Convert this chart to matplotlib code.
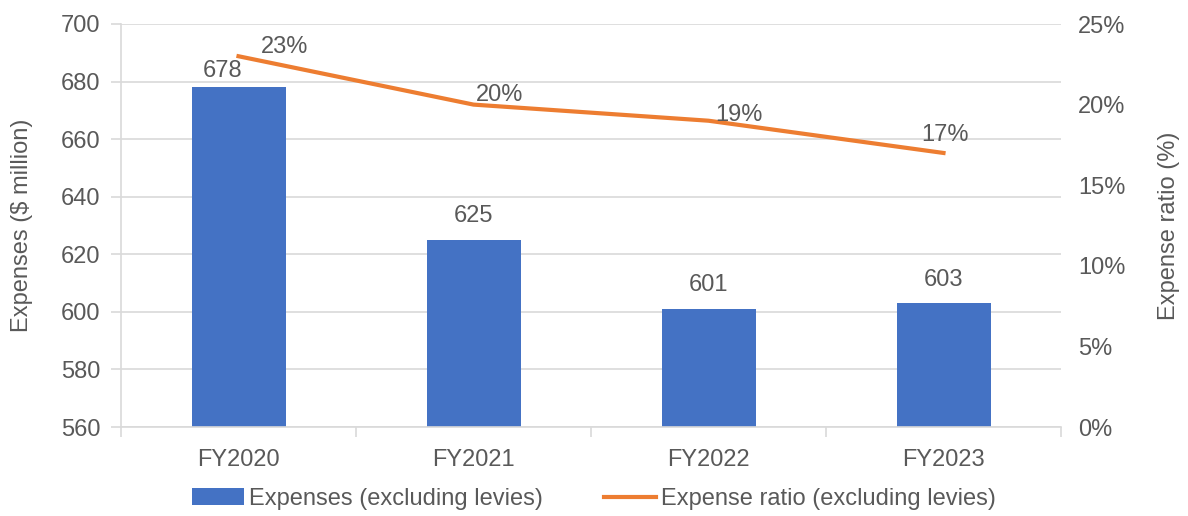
import numpy as np
import matplotlib.pyplot as plt
from matplotlib.ticker import FuncFormatter

plt.rcParams['font.family'] = ['Liberation Sans', 'DejaVu Sans']

years = ['FY2020', 'FY2021', 'FY2022', 'FY2023']
expenses = [678, 625, 601, 603]
ratio = [23, 20, 19, 17]

txt = '#595959'
grid = '#d9d9d9'
blue = '#4472c4'
orange = '#ed7d31'
fs = 17

fig = plt.figure(figsize=(11.88, 5.16), dpi=100)
ax = fig.add_axes([121/1188, 89/516, 940/1188, 403/516])
x = np.arange(len(years))

bars = ax.bar(x, expenses, width=0.40, color=blue, label='Expenses (excluding levies)', zorder=2)
ax.set_ylim(560, 700)
ax.set_xlim(-0.5, len(years) - 0.5)
ax.set_yticks(np.arange(560, 701, 20))
ax.yaxis.grid(True, color=grid, linewidth=1.2, zorder=0)
ax.set_axisbelow(True)
ax.set_xticks(x)
ax.set_xticklabels(years)
ax.set_xticks(np.arange(-0.5, len(years), 1), minor=True)
ax.tick_params(axis='x', which='major', length=0, pad=16, labelsize=fs, labelcolor=txt)
ax.tick_params(axis='x', which='minor', length=7, color=grid, width=1.2)
ax.tick_params(axis='y', length=7, color=grid, width=1.2, labelsize=fs, labelcolor=txt, pad=8)
for s in ['top', 'right']:
    ax.spines[s].set_visible(False)
for s in ['left', 'bottom']:
    ax.spines[s].set_color(grid)
    ax.spines[s].set_linewidth(1.2)
ax.set_ylabel('Expenses ($ million)', fontsize=fs, color=txt)
ax.yaxis.set_label_coords(-0.0936, 0.5)

# first label sits left of the line
bar_off = [(-11.5, 11.5), (0, 17), (0, 17), (0, 17)]
for xi, v, off in zip(x, expenses, bar_off):
    ax.annotate(str(v), (xi, v), xytext=off, textcoords='offset points',
                ha='center', va='center', fontsize=fs, color=txt)

ax2 = ax.twinx()
line, = ax2.plot(x, ratio, color=orange, linewidth=3, label='Expense ratio (excluding levies)', zorder=3)
ax2.set_ylim(0, 25)
ax2.set_yticks(np.arange(0, 26, 5))
ax2.yaxis.set_major_formatter(FuncFormatter(lambda v, p: f'{v:.0f}%'))
ax2.tick_params(axis='y', length=0, labelsize=fs, labelcolor=txt, pad=12.5)
for s in ['top', 'right', 'left', 'bottom']:
    ax2.spines[s].set_visible(False)
ax2.set_ylabel('Expense ratio (%)', fontsize=fs, color=txt)
ax2.yaxis.set_label_coords(1.103, 0.5)

offsets = [(33, 7), (19, 7), (22, 4), (1, 13)]
for xi, v, off in zip(x, ratio, offsets):
    ax2.annotate(f'{v}%', (xi, v), xytext=off, textcoords='offset points',
                 ha='center', va='center', fontsize=fs, color=txt)

fig.legend([bars, line], [bars.get_label(), line.get_label()], loc='center',
           bbox_to_anchor=(0.5, 1 - 499/516), ncol=2, frameon=False, fontsize=fs,
           labelcolor=txt, handlelength=2.2, handletextpad=0.2, columnspacing=2.6)

fig.savefig('out.png', dpi=100)
